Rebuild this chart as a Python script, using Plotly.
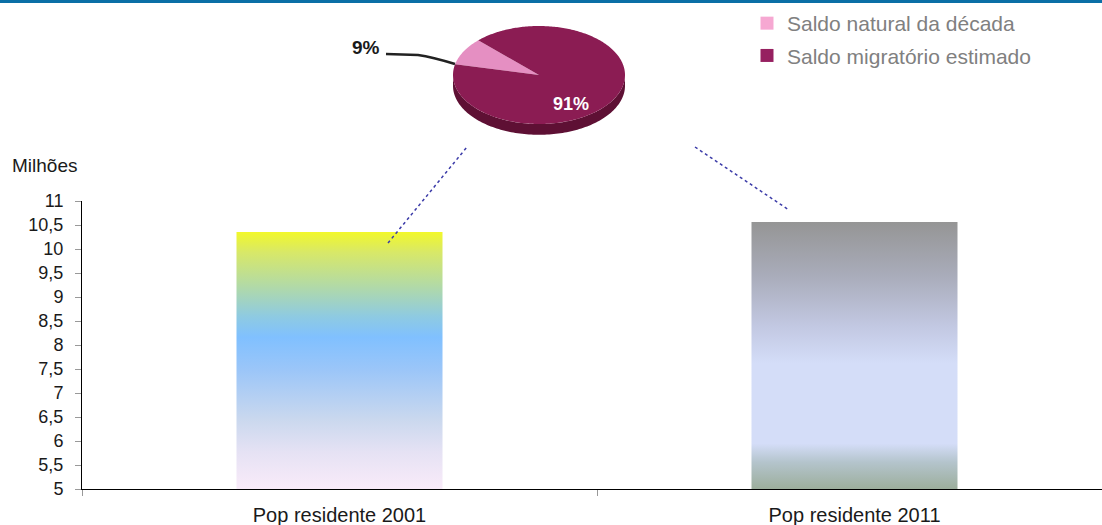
import numpy as np
import plotly.graph_objects as go

# ---------------- data ----------------
categories = ["Pop residente 2001", "Pop residente 2011"]
population_millions = [10.356, 10.562]
y_tick_values = [5, 5.5, 6, 6.5, 7, 7.5, 8, 8.5, 9, 9.5, 10, 10.5, 11]
y_tick_labels = ["5", "5,5", "6", "6,5", "7", "7,5", "8", "8,5", "9", "9,5", "10", "10,5", "11"]
pie_labels = ["Saldo natural da década", "Saldo migratório estimado"]
pie_shares = [9, 91]

# ---------------- styles ----------------
W, H = 1102, 525
ML, MR, MT, MB = 82, 0, 0, 36
PW, PH = W - ML - MR, H - MT - MB


def px_x(x):
    return (x - ML) / PW


def px_y(y):
    return (PH + MT - y) / PH


bar_scales = [
    [[0.0, "#f9ebf9"], [0.14, "#e6e2f4"], [0.27, "#cad8ee"], [0.46, "#9cc6f8"],
     [0.59, "#80c0ff"], [0.67, "#8ecae2"], [0.79, "#b2daa6"], [0.92, "#d8e868"],
     [1.0, "#f2f82a"]],
    [[0.0, "#9cae9c"], [0.10, "#b4c4cc"], [0.17, "#d4ddf8"], [0.47, "#d4ddf8"],
     [0.61, "#c2c8e2"], [0.80, "#a9acba"], [1.0, "#959595"]],
]
slice_colors = ["#e58fc2", "#8b1c53"]
legend_colors = ["#f6a8d2", "#962060"]
rim_color = "#5e1034"
bar_half = 0.2
y_min, y_max = 5, 11

fig = go.Figure()

# ---------------- bars (gradient-filled) ----------------
for i, (cat, v) in enumerate(zip(categories, population_millions)):
    fig.add_trace(go.Scatter(
        x=[i - bar_half, i + bar_half, i + bar_half, i - bar_half, i - bar_half],
        y=[y_min, y_min, v, v, y_min],
        mode="none", fill="toself",
        fillgradient=dict(type="vertical", colorscale=bar_scales[i], start=y_min, stop=v),
        showlegend=False, hoverinfo="skip", name=cat,
    ))

# ---------------- pie (tilted, 3D look) ----------------
depth = 0.22
total = sum(pie_shares)
start_angle = 135.0
# rim (front half)
a = np.radians(np.linspace(180, 360, 120))
rx = np.concatenate([np.cos(a), np.cos(a)[::-1]])
ry = np.concatenate([np.sin(a), (np.sin(a) - depth)[::-1]])
fig.add_trace(go.Scatter(x=rx, y=ry, xaxis="x2", yaxis="y2", mode="none", fill="toself",
                         fillcolor=rim_color, showlegend=False, hoverinfo="skip"))
ang = start_angle
for lab, share, col in zip(pie_labels, pie_shares, slice_colors):
    span = 360.0 * share / total
    t = np.radians(np.linspace(ang, ang + span, max(8, int(span))))
    sx = np.concatenate([[0], np.cos(t), [0]])
    sy = np.concatenate([[0], np.sin(t), [0]])
    fig.add_trace(go.Scatter(x=sx, y=sy, xaxis="x2", yaxis="y2", mode="none", fill="toself",
                             fillcolor=col, line=dict(width=0), showlegend=False,
                             hoverinfo="skip", name=lab))
    ang += span

# legend entries
for i, (lab, col) in enumerate(zip(pie_labels, legend_colors)):
    fig.add_trace(go.Scatter(x=[None], y=[None], xaxis="x2", yaxis="y2", mode="markers",
                             marker=dict(symbol="square", size=13, color=col),
                             name=lab, legendgroup="g%d" % i, showlegend=True))

# ---------------- layout ----------------
pie_cx, pie_cy, pie_a, pie_b = 539, 75, 86, 49
x2_rng = [-1.2, 1.2]
y2_rng = [-1.6, 1.3]
x2_dom = [px_x(pie_cx + x2_rng[0] * pie_a), px_x(pie_cx + x2_rng[1] * pie_a)]
y2_dom = [px_y(pie_cy - y2_rng[0] * pie_b), px_y(pie_cy - y2_rng[1] * pie_b)]

font_family = "Liberation Sans, Arial, sans-serif"

fig.update_layout(
    width=W, height=H,
    margin=dict(l=ML, r=MR, t=MT, b=MB, autoexpand=False),
    paper_bgcolor="white", plot_bgcolor="white",
    font=dict(family=font_family, size=17, color="#1a1a1a"),
    showlegend=True,
    legend=dict(x=px_x(747), y=px_y(3), xanchor="left", yanchor="top",
                font=dict(size=21, color="#808080"), tracegroupgap=2,
                bgcolor="rgba(0,0,0,0)", itemwidth=30),
    xaxis=dict(domain=[0, 1], range=[-0.5, -0.5 + PW / 515.0],
               tickmode="array", tickvals=list(range(len(categories))), ticktext=categories,
               ticks="", showgrid=False, zeroline=False,
               showline=True, linecolor="black", linewidth=1,
               ticklabelstandoff=8,
               minor=dict(tickmode="array", tickvals=[-0.5, 0.5, 1.5], ticks="outside",
                          ticklen=6, tickcolor="#999999", showgrid=False),
               tickfont=dict(size=20, color="#1a1a1a")),
    yaxis=dict(domain=[0, px_y(201)], range=[y_min, y_max],
               tickmode="array", tickvals=y_tick_values, ticktext=y_tick_labels,
               ticks="outside", ticklen=6, tickcolor="#999999",
               showgrid=False, zeroline=False,
               showline=True, linecolor="black", linewidth=1,
               ticklabelstandoff=8,
               tickfont=dict(size=18, color="#1a1a1a")),
    xaxis2=dict(domain=x2_dom, range=x2_rng, visible=False, anchor="y2"),
    yaxis2=dict(domain=y2_dom, range=y2_rng, visible=False, anchor="x2"),
)

# top blue rule
fig.add_shape(type="rect", xref="paper", yref="paper",
              x0=px_x(0), x1=px_x(W), y0=px_y(3), y1=px_y(-2),
              fillcolor="#0b6fa6", line=dict(width=0), layer="above")

# dotted connectors from bars to pie
for (x0, y0, x1, y1) in [(388, 243, 467, 147), (695, 147, 789, 210)]:
    fig.add_shape(type="line", xref="paper", yref="paper",
                  x0=px_x(x0), y0=px_y(y0), x1=px_x(x1), y1=px_y(y1),
                  line=dict(color="#3b3ba8", width=1.5, dash="dot"), layer="above")

# leader line for small slice
fig.add_shape(type="path", xref="paper", yref="paper",
              path="M %f,%f L %f,%f Q %f,%f %f,%f" % (px_x(386), px_y(54), px_x(418), px_y(55),
                                                      px_x(432), px_y(57), px_x(455), px_y(64)),
              line=dict(color="#222222", width=2.5))

fig.add_annotation(text="<b>%d%%</b>" % pie_shares[0], xref="paper", yref="paper",
                   x=px_x(366), y=px_y(47), showarrow=False,
                   font=dict(size=19, color="#1a1a1a", family=font_family), xanchor="center",
                   yanchor="middle")
fig.add_annotation(text="<b>%d%%</b>" % pie_shares[1], xref="paper", yref="paper",
                   x=px_x(571), y=px_y(104), showarrow=False,
                   font=dict(size=18, color="white", family=font_family), xanchor="center",
                   yanchor="middle")
fig.add_annotation(text="Milhões", xref="paper", yref="paper",
                   x=px_x(10), y=px_y(165), xanchor="left", yanchor="middle",
                   showarrow=False, font=dict(size=19, color="#1a1a1a", family=font_family))

fig.write_html("out.html")
